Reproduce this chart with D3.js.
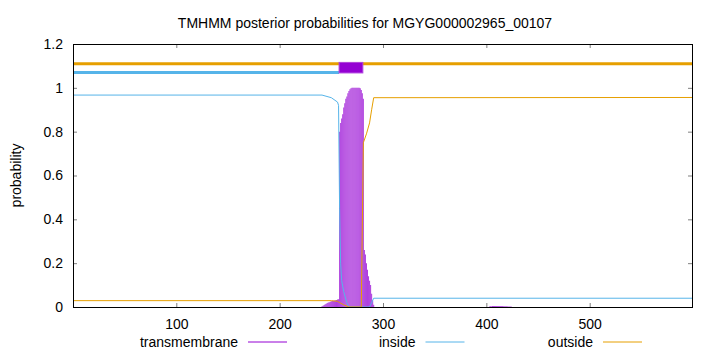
<!DOCTYPE html>
<html>
<head>
<meta charset="utf-8">
<script src="https://cdn.jsdelivr.net/npm/d3@7"></script>
<style>
  body { margin: 0; background: #fff; }
  svg text { font-family: "Liberation Sans", Arial, sans-serif; font-size: 14px; fill: #000; }
</style>
</head>
<body>
<div class="chart"></div>
<script>
// residue positions run 1..599
const seqLength = 599;

// topology bars drawn above the curves: [from, to, kind]
const topology = [
  [1, 599, "outside"],
  [1, 257, "inside"],
  [258, 280, "transmembrane"]
];

// transmembrane posterior, one value per residue starting at tmStart
const tmStart = 241;
const tmProb = [
  0.003, 0.006, 0.009, 0.012, 0.015, 0.018, 0.02, 0.022, 0.024, 0.026,
  0.028, 0.029, 0.03, 0.031, 0.032, 0.034, 0.035,
  0.80, 0.84, 0.86, 0.88, 0.91, 0.93, 0.95, 0.96, 0.975, 0.985, 0.993, 0.998,
  1, 1, 1, 1, 1, 1, 1, 1,
  0.998, 0.99, 0.975, 0.95,
  0.26, 0.24, 0.2, 0.17, 0.14, 0.12, 0.1, 0.06, 0.03, 0.01
];
// faint transmembrane bump further along
const tmStart2 = 403;
const tmProb2 = [0.002, 0.003, 0.003, 0.004, 0.004, 0.004, 0.004, 0.004, 0.004, 0.004,
  0.004, 0.004, 0.004, 0.004, 0.003, 0.003, 0.003, 0.003, 0.002, 0.002, 0.002, 0.002];

// inside / outside posterior, read as [residue, probability] breakpoints
const insideProb = [
  [1, 0.967], [241, 0.967], [250, 0.955], [256, 0.935], [257, 0.92], [258, 0.45],
  [259, 0.2], [260, 0.12], [262, 0.07], [265, 0.02], [267, 0], [287, 0],
  [291, 0.04], [599, 0.04]
];
const outsideProb = [
  [1, 0.029], [250, 0.029], [256, 0.026], [258, 0.02], [262, 0.01], [267, 0],
  [279, 0], [281, 0.75], [284, 0.79], [287, 0.84], [289, 0.9], [291, 0.955], [599, 0.956]
];

const topoLevel = { inside: 1.07, outside: 1.11 };
const tmBox = [1.068, 1.116];

const xTicks = [100, 200, 300, 400, 500];
const yTicks = [0, 0.2, 0.4, 0.6, 0.8, 1, 1.2];
const legendItems = ["transmembrane", "inside", "outside"];

const colors = { transmembrane: "#9400d3", inside: "#56b4e9", outside: "#e69f00" };

const width = 720, height = 352;
const margin = { top: 44, right: 28, bottom: 45, left: 73 };

const svg = d3.select(".chart").append("svg")
  .attr("width", width).attr("height", height);

const x = d3.scaleLinear()
  .domain([1, seqLength])
  .range([margin.left + 1, width - margin.right]);
const y = d3.scaleLinear()
  .domain([0, 1.2])
  .range([height - margin.bottom, margin.top]);

const x0 = margin.left, x1 = width - margin.right;
const y0 = height - margin.bottom, y1 = margin.top;

// title
svg.append("text")
  .attr("x", 365).attr("y", 28)
  .attr("text-anchor", "middle")
  .text("TMHMM posterior probabilities for MGYG000002965_00107");

// y label
svg.append("text")
  .attr("transform", `translate(21,${(y0 + y1) / 2}) rotate(-90)`)
  .attr("text-anchor", "middle")
  .text("probability");

// transmembrane impulses
const plot = svg.append("g");
const tmData = tmProb.map((v, i) => [tmStart + i, v])
  .concat(tmProb2.map((v, i) => [tmStart2 + i, v]));
const step = x(2) - x(1);
plot.selectAll("line.tm").data(tmData).join("line")
  .attr("class", "tm")
  .attr("x1", d => x(d[0])).attr("x2", d => x(d[0]))
  .attr("y1", y(0)).attr("y2", d => y(d[1]))
  .attr("stroke", colors.transmembrane)
  .attr("stroke-opacity", 0.75)
  .attr("stroke-width", step);

const line = d3.line().x(d => x(d[0])).y(d => y(d[1]));

plot.append("path").datum(insideProb)
  .attr("fill", "none").attr("stroke", colors.inside).attr("stroke-width", 1)
  .attr("d", line);
plot.append("path").datum(outsideProb)
  .attr("fill", "none").attr("stroke", colors.outside).attr("stroke-width", 1)
  .attr("d", line);

// topology bars
topology.forEach(([a, b, kind]) => {
  if (kind === "transmembrane") {
    svg.append("rect")
      .attr("x", x(a - 0.5)).attr("width", x(b + 0.5) - x(a - 0.5))
      .attr("y", y(tmBox[1])).attr("height", y(tmBox[0]) - y(tmBox[1]))
      .attr("fill", colors.transmembrane)
      .attr("stroke", "#b044e0").attr("stroke-width", 1);
  } else {
    svg.append("line")
      .attr("x1", x(a) - 1).attr("x2", x(b) + 0.5)
      .attr("y1", y(topoLevel[kind])).attr("y2", y(topoLevel[kind]))
      .attr("stroke", colors[kind]).attr("stroke-width", 3);
  }
});

// axes (gnuplot style: inward ticks, mirrored)
const xAxis = svg.append("g").attr("transform", `translate(0,${y0})`)
  .call(d3.axisBottom(x).tickValues(xTicks).tickSize(-4).tickPadding(12).tickFormat(d3.format("d")));
const xAxisTop = svg.append("g").attr("transform", `translate(0,${y1})`)
  .call(d3.axisTop(x).tickValues(xTicks).tickSize(-4).tickFormat(""));
const yAxis = svg.append("g").attr("transform", `translate(${x0},0)`)
  .call(d3.axisLeft(y).tickValues(yTicks).tickSize(-4).tickPadding(10).tickFormat(d => d3.format("~g")(d)));
const yAxisRight = svg.append("g").attr("transform", `translate(${x1},0)`)
  .call(d3.axisRight(y).tickValues(yTicks).tickSize(-4).tickFormat(""));

[xAxis, xAxisTop, yAxis, yAxisRight].forEach(g => {
  g.select(".domain").remove();
  g.selectAll(".tick line").attr("stroke", "#000").attr("stroke-opacity", 0.5);
  g.selectAll("text").attr("font-size", 14).attr("font-family", "Liberation Sans, Arial, sans-serif").attr("fill", "#000");
});
xAxis.selectAll("text").attr("dy", "0.71em").attr("y", 12);

svg.append("rect")
  .attr("x", x0 + 0.5).attr("y", y1 + 0.5)
  .attr("width", x1 - x0).attr("height", y0 - y1)
  .attr("fill", "none").attr("stroke", "#000").attr("stroke-width", 1);

// legend
const legendX = d3.scalePoint().domain(legendItems).range([287, 642]);
const legend = svg.selectAll("g.legend").data(legendItems).join("g")
  .attr("class", "legend")
  .attr("transform", d => `translate(${legendX(d)},342)`);
legend.append("line")
  .attr("x1", -39).attr("x2", 0).attr("y1", 0).attr("y2", 0)
  .attr("stroke", d => colors[d]).attr("stroke-width", 1);
legend.append("text")
  .attr("x", -49).attr("y", 5)
  .attr("text-anchor", "end")
  .text(d => d);
</script>
</body>
</html>
